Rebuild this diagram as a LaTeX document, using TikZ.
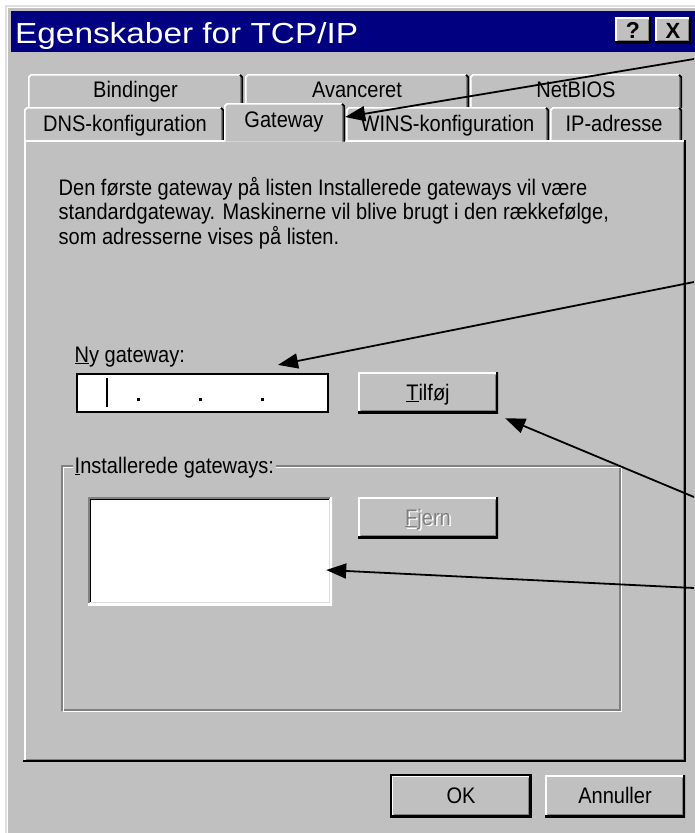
\documentclass[tikz,border=0pt]{standalone}
\usepackage{fontspec}
\setmainfont{Liberation Sans}
\newfontfamily\uifont[FakeStretch=0.89]{Liberation Sans}
\newfontfamily\wintitlefont[FakeStretch=1.15]{Liberation Sans}
\usetikzlibrary{arrows.meta,calc}
\definecolor{wgray}{RGB}{192,192,192}
\definecolor{dgray}{RGB}{128,128,128}
\definecolor{lgray}{RGB}{223,223,223}
\definecolor{navy}{RGB}{0,0,128}
\newcommand{\wintab}[4]{%
  \fill[wgray] (#1,#4) -- (#1,#3+3) -- (#1+3,#3) -- (#2-3,#3) -- (#2,#3+3) -- (#2,#4) -- cycle;
  \draw[white,line width=1.7pt] (#1+0.85,#4) -- (#1+0.85,#3+3) -- (#1+3,#3+0.85) -- (#2-3,#3+0.85);
  \draw[black,line width=1.7pt] (#2-3,#3+0.85) -- (#2-0.85,#3+3) -- (#2-0.85,#4);
  \draw[dgray,line width=1.7pt] (#2-2.55,#3+3) -- (#2-2.55,#4);
}
\begin{document}
\begin{tikzpicture}[x=1pt,y=-1pt,
  ui/.style={font=\uifont\fontsize{22.5}{27}\selectfont, inner sep=0pt},
  raised/.style={fill=wgray, inner sep=0pt, text height=16pt, text depth=1pt,
    path picture={
      \draw[white,line width=3.4pt] (path picture bounding box.south west) |- (path picture bounding box.north east);
      \draw[black,line width=3.4pt] (path picture bounding box.south west) -| (path picture bounding box.north east);
      \draw[dgray,line width=1.7pt] ([shift={(2.55pt,2.55pt)}]path picture bounding box.south west) -| ([shift={(-2.55pt,-2.55pt)}]path picture bounding box.north east);
    }},
  sunken/.style={fill=white, inner sep=0pt,
    path picture={
      \draw[dgray,line width=3.4pt] (path picture bounding box.south west) |- (path picture bounding box.north east);
      \draw[white,line width=3.4pt] (path picture bounding box.south west) -| (path picture bounding box.north east);
      \draw[black,line width=1.7pt] ([shift={(2.55pt,2.55pt)}]path picture bounding box.south west) |- ([shift={(-2.55pt,-2.55pt)}]path picture bounding box.north east);
      \draw[lgray,line width=1.7pt] ([shift={(2.55pt,2.55pt)}]path picture bounding box.south west) -| ([shift={(-2.55pt,-2.55pt)}]path picture bounding box.north east);
    }},
  btn/.style={raised, ui, minimum width=140pt, minimum height=41pt, text height=16pt, text depth=1pt},
  arr/.style={-{Triangle[length=20pt,width=15pt]}, line width=1.8pt, black},
  ]
\useasboundingbox (0,0) rectangle (694,833);
% window
\fill[white] (0,0) rectangle (694,833);
\fill[wgray] (5,5) rectangle (700,840);
\draw[lgray,line width=1.7pt] (5.85,840) -- (5.85,5.85) -- (700,5.85);
\draw[white,line width=1.7pt] (7.55,840) -- (7.55,7.55) -- (700,7.55);
% title bar
\fill[navy] (11,11) rectangle (700,52);
\node[anchor=base west, inner sep=0pt, text=white, font=\wintitlefont\fontsize{29}{34}\selectfont] (title) at (15,43) {Egenskaber for TCP/IP};
\node[raised, minimum width=36pt, minimum height=26pt, text height=16pt, text depth=0pt, font=\bfseries\fontsize{23}{23}\selectfont] (help) at (633,30) {?};
\node[raised, minimum width=36pt, minimum height=26pt, text height=16pt, text depth=0pt, font=\bfseries\fontsize{22}{22}\selectfont] (close) at (673,30) {X};
% back row tabs
\wintab{28}{243}{74}{108}
\wintab{245}{469}{74}{108}
\wintab{470}{682}{74}{108}
\node[ui, anchor=base] (tbind) at (135.5,97) {Bindinger};
\node[ui, anchor=base] (tavan) at (357,97) {Avanceret};
\node[ui, anchor=base] (tnetb) at (576,97) {NetBIOS};
% front row tabs
\wintab{24}{224}{107}{141}
\wintab{346}{549}{107}{141}
\wintab{550}{682}{107}{141}
\node[ui, anchor=base] (tdns) at (125,131) {DNS-konfiguration};
\node[ui, anchor=base] (twins) at (447.5,131) {WINS-konfiguration};
\node[ui, anchor=base] (tip) at (614,131) {IP-adresse};
% panel
\draw[white,line width=1.7pt] (24.85,762) -- (24.85,140.85) -- (684,140.85);
\draw[dgray,line width=1.7pt] (26,759.45) -- (683.45,759.45) -- (683.45,141.7);
\draw[black,line width=1.7pt] (23,761.15) -- (685.15,761.15) -- (685.15,140);
% selected tab
\wintab{224}{345}{103}{141.7}
\node[ui, anchor=base] (tgate) at (284,127) {Gateway};
\node[inner sep=0pt, minimum width=121pt, minimum height=28pt] (gwarea) at (284.5,117) {};
% description
\node[ui, anchor=base west] (p1) at (58.5,195) {Den første gateway på listen Installerede gateways vil være};
\node[ui, anchor=base west] (p2) at (58.5,219.5) {standardgateway. Maskinerne vil blive brugt i den rækkefølge,};
\node[ui, anchor=base west] (p3) at (58.5,244) {som adresserne vises på listen.};
% new gateway
\node[ui, anchor=base west] (nylbl) at (74.5,362) {\underline{N}y gateway:};
\node[fill=white, draw=black, line width=2.2pt, minimum width=251pt, minimum height=38pt, inner sep=0pt] (tb) at (202.5,393) {};
\fill[black] (105.8,378) rectangle (108.4,407);
\fill[black] (136.5,397.5) rectangle (139.5,400.5);
\fill[black] (198.5,397.5) rectangle (201.5,400.5);
\fill[black] (260.5,397.5) rectangle (263.5,400.5);
\node[btn] (tilfoj) at (428,392.5) {\underline{T}ilføj};
% group
\draw[dgray,line width=1.5pt] (62,466) rectangle (620,710);
\draw[white,line width=1.5pt] (63.6,467.6) rectangle (621.6,711.6);
\node[ui, anchor=base west, fill=wgray, inner xsep=2pt] (grlbl) at (72.5,473) {\underline{I}nstallerede gateways:};
\node[sunken, minimum width=244pt, minimum height=108pt] (lb) at (210,551) {};
\node[btn] (fjern) at (428,517.5) {};
\node[ui, text=white, text height=16pt, text depth=1pt] (fjsh) at ($(fjern.center)+(1.5,1.5)$) {\underline{F}jern};
\node[ui, text=dgray, text height=16pt, text depth=1pt] (fjtx) at (fjern.center) {\underline{F}jern};
% bottom buttons
\node[btn, minimum height=42pt] (ok) at (461,796) {OK};
\draw[black,line width=1.7pt] (ok.south west) rectangle (ok.north east);
\node[btn, minimum height=42pt] (annul) at (615,796) {Annuller};
% arrows
\coordinate (s1) at (694,59);
\coordinate (s2) at (694,282);
\coordinate (s3) at (694,497);
\coordinate (s4) at (694,588);
\draw[arr] (s1) -- (gwarea.east);
\draw[arr] (s2) -- ($(tb.north)+(75.5,-8)$);
\draw[arr] (s3) -- ($(tilfoj.south east)+(7,5)$);
\draw[arr] (s4) -- ($(lb.east)+(-6,19)$);
\end{tikzpicture}
\end{document}
